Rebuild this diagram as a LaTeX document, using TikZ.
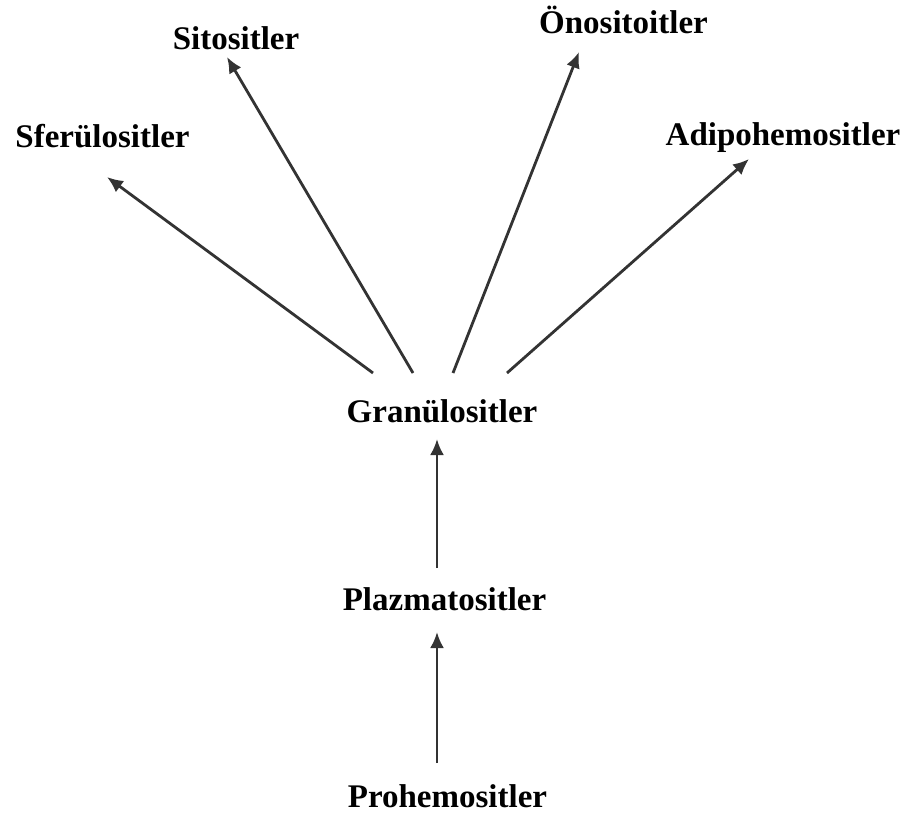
\documentclass[tikz,border=0pt]{standalone}
\usepackage{fontspec}
\setmainfont{Liberation Serif}
\usetikzlibrary{arrows.meta}
\definecolor{linegray}{HTML}{333333}
\begin{document}
\begin{tikzpicture}[x=1pt,y=-1pt,
  lbl/.style={anchor=base,inner sep=0pt,font=\fontsize{33}{40}\selectfont\bfseries},
  conn/.style={draw=linegray,line width=2.8pt,-{Latex[length=16pt,width=14pt]}}]
\useasboundingbox (0,0) rectangle (924,819);
\node[lbl] (sfer) at (102.5,147) {Sferülositler};
\node[lbl] (sito) at (236,49) {Sitositler};
\node[lbl] (onos) at (623.5,33) {Önositoitler};
\node[lbl] (adip) at (783,145) {Adipohemositler};
\node[lbl] (gran) at (442,422) {Granülositler};
\node[lbl] (plaz) at (444.5,610) {Plazmatositler};
\node[lbl] (proh) at (447.5,807) {Prohemositler};
% connector ends
\coordinate (gA) at (373,373);
\coordinate (gB) at (413,373);
\coordinate (gC) at (453,373);
\coordinate (gD) at (507,373);
\coordinate (tA) at (107,177);
\coordinate (tB) at (227,57);
\coordinate (tC) at (579,52);
\coordinate (tD) at (749,159);
\coordinate (gIn) at (437,439);
\coordinate (pOut) at (437,568);
\coordinate (pIn) at (437,632);
\coordinate (hOut) at (437,763);
\draw[conn] (gA) -- (tA);
\draw[conn] (gB) -- (tB);
\draw[conn] (gC) -- (tC);
\draw[conn] (gD) -- (tD);
\draw[conn] (pOut) -- (gIn);
\draw[conn] (hOut) -- (pIn);
\end{tikzpicture}
\end{document}
